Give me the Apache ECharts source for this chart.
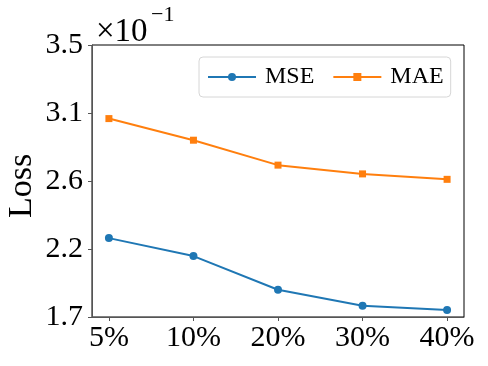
<!DOCTYPE html>
<html>
<head>
<meta charset="utf-8">
<script src="https://cdn.jsdelivr.net/npm/echarts@6/dist/echarts.min.js"></script>
<style>
  html, body { margin: 0; padding: 0; background: #fff; }
  #chart { width: 488px; height: 366px; }
</style>
</head>
<body>
<div id="chart"></div>
<script>
// data (raw loss, axis shows x10^-1)
var categories = ['5%', '10%', '20%', '30%', '40%'];
var mseValues = [0.2222, 0.2103, 0.1880, 0.1775, 0.1746];
var maeValues = [0.3013, 0.2870, 0.2705, 0.2647, 0.2611];
var yTicks = [0.17, 0.215, 0.26, 0.305, 0.35];
var yTickLabels = ['1.7', '2.2', '2.6', '3.1', '3.5'];

var font = '"Times New Roman", "Liberation Serif", Tinos, serif';
var chart = echarts.init(document.getElementById('chart'));

function pairs(vals) {
    return vals.map(function (v, i) { return [i, v]; });
}

var option = {
    animation: false,
    grid: {
        left: 92, top: 45, right: 24, bottom: 49,
        outerBoundsMode: 'none',
        containLabel: false,
        show: true, borderColor: '#000', borderWidth: 1
    },
    graphic: [
        // offset text in the top left
        { type: 'text', left: 96, top: 16, style: { text: '×10', font: '33px ' + font, fill: '#000' } },
        { type: 'text', left: 151, top: 4, style: { text: '−1', font: '22px ' + font, fill: '#000' } },
        // y axis title
        {
            type: 'text', x: 22, y: 186, rotation: Math.PI / 2,
            style: { text: 'Loss', font: '34px ' + font, fill: '#000', align: 'center', verticalAlign: 'middle' }
        }
    ],
    legend: {
        left: 199, top: 57,
        padding: [8, 7, 8, 8],
        itemGap: 18,
        itemWidth: 48, itemHeight: 10,
        backgroundColor: '#fff',
        borderColor: '#d6d6d6', borderWidth: 1, borderRadius: 4,
        textStyle: { fontFamily: font, fontSize: 24, color: '#000', padding: [2, 0, 0, 4] },
        data: ['MSE', 'MAE']
    },
    xAxis: {
        type: 'value',
        min: -0.2, max: 4.2,
        axisLine: { onZero: false, lineStyle: { color: '#555', width: 1 } },
        axisTick: { customValues: [0, 1, 2, 3, 4], length: 4, lineStyle: { color: '#555' } },
        axisLabel: {
            customValues: [0, 1, 2, 3, 4],
            margin: 6,
            fontFamily: font, fontSize: 30, color: '#000',
            formatter: function (v) { return categories[Math.round(v)]; }
        },
        splitLine: { show: false }
    },
    yAxis: {
        type: 'value',
        min: 0.17, max: 0.35,
        axisLine: { show: true, onZero: false, lineStyle: { color: '#555', width: 1 } },
        axisTick: { show: true, customValues: yTicks, length: 4, lineStyle: { color: '#555' } },
        axisLabel: {
            customValues: yTicks,
            margin: 9,
            fontFamily: font, fontSize: 30, color: '#000',
            formatter: function (v) {
                var best = 0;
                for (var i = 1; i < yTicks.length; i++) {
                    if (Math.abs(yTicks[i] - v) < Math.abs(yTicks[best] - v)) best = i;
                }
                return yTickLabels[best];
            }
        },
        splitLine: { show: false }
    },
    series: [
        {
            name: 'MSE', type: 'line',
            data: pairs(mseValues),
            symbol: 'circle', symbolSize: 8,
            lineStyle: { width: 2, color: '#1f77b4' },
            itemStyle: { color: '#1f77b4' }
        },
        {
            name: 'MAE', type: 'line',
            data: pairs(maeValues),
            symbol: 'rect', symbolSize: 7,
            lineStyle: { width: 2, color: '#ff7f0e' },
            itemStyle: { color: '#ff7f0e' }
        }
    ]
};
chart.setOption(option);
</script>
</body>
</html>
